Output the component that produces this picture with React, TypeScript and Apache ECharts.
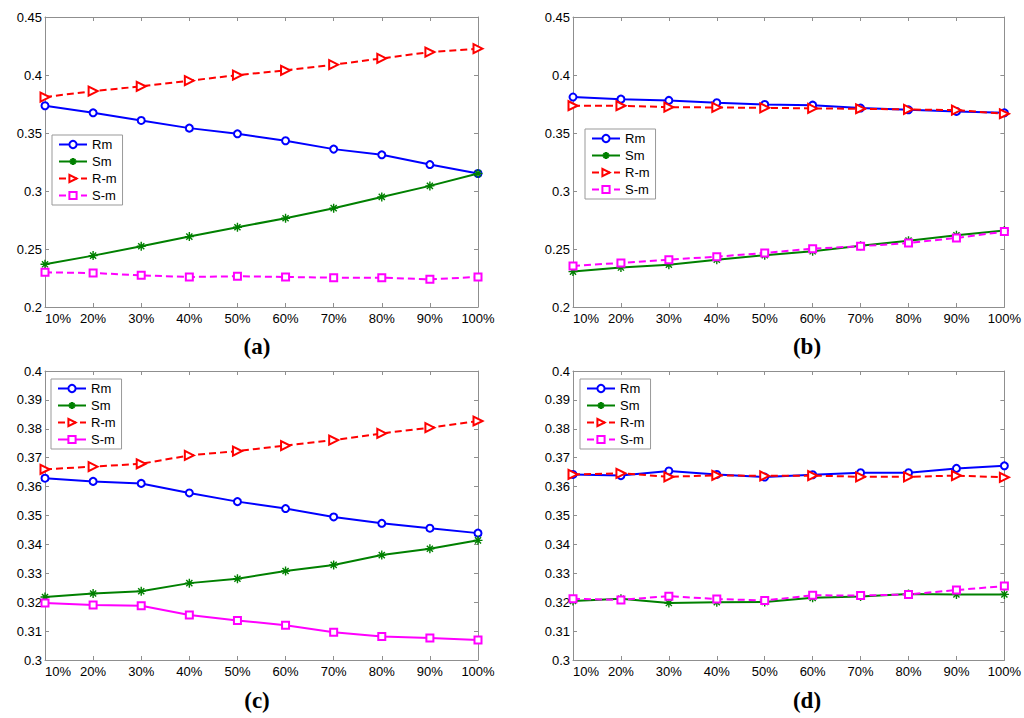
import { useEffect, useRef } from "react";
import * as echarts from "echarts";

const categories = ["10%", "20%", "30%", "40%", "50%", "60%", "70%", "80%", "90%", "100%"];
const seriesNames = ["Rm", "Sm", "R-m", "S-m"];

// panel (a)
const aRm = [0.3735, 0.3674, 0.3608, 0.3542, 0.3493, 0.3433, 0.3361, 0.3312, 0.3228, 0.3151];
const aSm = [0.2368, 0.2443, 0.2524, 0.2607, 0.2688, 0.2765, 0.2852, 0.2949, 0.3044, 0.3151];
const aRminus = [0.381, 0.3861, 0.3902, 0.3951, 0.3999, 0.404, 0.4089, 0.4143, 0.4198, 0.4227];
const aSminus = [0.2299, 0.2293, 0.2273, 0.2259, 0.2265, 0.2259, 0.2253, 0.2253, 0.2239, 0.2259];

// panel (b)
const bRm = [0.381, 0.3792, 0.3781, 0.3761, 0.3746, 0.374, 0.3715, 0.37, 0.3686, 0.3674];
const bSm = [0.2305, 0.234, 0.2365, 0.2408, 0.2446, 0.248, 0.2529, 0.2572, 0.2619, 0.2659];
const bRminus = [0.3735, 0.3735, 0.3723, 0.372, 0.3717, 0.3712, 0.3709, 0.3703, 0.3697, 0.3666];
const bSminus = [0.2354, 0.238, 0.2408, 0.2434, 0.2466, 0.2503, 0.2524, 0.2552, 0.2595, 0.265];

// panel (c)
const cRm = [0.3629, 0.3618, 0.3611, 0.3578, 0.3548, 0.3524, 0.3495, 0.3473, 0.3456, 0.3439];
const cSm = [0.3218, 0.323, 0.3238, 0.3266, 0.3281, 0.3308, 0.3329, 0.3363, 0.3385, 0.3414];
const cRminus = [0.366, 0.3669, 0.3679, 0.3708, 0.3723, 0.3742, 0.3761, 0.3784, 0.3804, 0.3827];
const cSminus = [0.3197, 0.319, 0.3188, 0.3156, 0.3137, 0.312, 0.3096, 0.3081, 0.3076, 0.3069];

// panel (d)
const dRm = [0.3642, 0.3638, 0.3654, 0.3642, 0.3633, 0.3641, 0.3648, 0.3648, 0.3663, 0.3672];
const dSm = [0.3204, 0.3212, 0.3197, 0.32, 0.3201, 0.3215, 0.322, 0.3228, 0.3227, 0.3227];
const dRminus = [0.3642, 0.3646, 0.3634, 0.3639, 0.3637, 0.3638, 0.3634, 0.3634, 0.3638, 0.3632];
const dSminus = [0.3212, 0.3208, 0.3221, 0.3211, 0.3206, 0.3224, 0.3223, 0.3227, 0.3242, 0.3256];

const AXIS_GRAY = "#8f8f8f";
const SANS = "'Liberation Sans', Arial, sans-serif";
const SERIF = "'Liberation Serif', 'Times New Roman', serif";
const ASTERISK = "path://M5,0L5,10M0,5L10,5M1.6,1.6L8.4,8.4M1.6,8.4L8.4,1.6";

type PanelSpec = {
  letter: string;
  left: number;
  top: number;
  values: number[][];
  yMin: number;
  yMax: number;
  interval: number;
  gridLeft: number;
  gridTop: number;
  gridWidth: number;
  gridHeight: number;
  legendLeft: number;
  legendTop: number;
  labelX: number;
  labelY: number;
  sMinusSolid: boolean;
};

const panels: PanelSpec[] = [
  {
    letter: "a", left: 0, top: 0, values: [aRm, aSm, aRminus, aSminus],
    yMin: 0.2, yMax: 0.45, interval: 0.05,
    gridLeft: 45, gridTop: 17, gridWidth: 433, gridHeight: 290,
    legendLeft: 52, legendTop: 135, labelX: 257, labelY: 348, sMinusSolid: false,
  },
  {
    letter: "b", left: 512, top: 0, values: [bRm, bSm, bRminus, bSminus],
    yMin: 0.2, yMax: 0.45, interval: 0.05,
    gridLeft: 61, gridTop: 17, gridWidth: 434, gridHeight: 290,
    legendLeft: 73, legendTop: 129, labelX: 295, labelY: 348, sMinusSolid: false,
  },
  {
    letter: "c", left: 0, top: 359, values: [cRm, cSm, cRminus, cSminus],
    yMin: 0.3, yMax: 0.4, interval: 0.01,
    gridLeft: 45, gridTop: 12, gridWidth: 433, gridHeight: 289,
    legendLeft: 51, legendTop: 20, labelX: 257, labelY: 343, sMinusSolid: true,
  },
  {
    letter: "d", left: 512, top: 359, values: [dRm, dSm, dRminus, dSminus],
    yMin: 0.3, yMax: 0.4, interval: 0.01,
    gridLeft: 61, gridTop: 12, gridWidth: 434, gridHeight: 289,
    legendLeft: 68, legendTop: 20, labelX: 295, labelY: 343, sMinusSolid: false,
  },
];

function buildOption(p: PanelSpec) {
  const styles = [
    { color: "#0000ff", dashed: false, symbol: "emptyCircle", size: 7, rotate: 0 },
    { color: "#008000", dashed: false, symbol: ASTERISK, size: 9, rotate: 0 },
    { color: "#ff0000", dashed: true, symbol: "emptyTriangle", size: 9, rotate: -90 },
    { color: "#ff00ff", dashed: !p.sMinusSolid, symbol: "emptyRect", size: 7, rotate: 0 },
  ];

  const series = seriesNames.map((name, i) => {
    const s = styles[i];
    return {
      name,
      type: "line",
      data: p.values[i],
      xAxisIndex: 0,
      yAxisIndex: 0,
      symbol: s.symbol,
      symbolSize: s.size,
      symbolRotate: s.rotate,
      showAllSymbol: true,
      lineStyle: { color: s.color, width: 2, type: s.dashed ? [7, 4] : "solid" },
      itemStyle: { color: s.color, borderColor: s.color, borderWidth: 1.4 },
      z: 2 + i,
    };
  });

  const fmt = (v: number) => String(parseFloat(v.toFixed(3)));
  const axisLine = { show: true, onZero: false, lineStyle: { color: AXIS_GRAY, width: 1 } };
  const axisTick = { show: true, inside: true, length: 4, lineStyle: { color: AXIS_GRAY } };

  return {
    animation: false,
    backgroundColor: "#ffffff",
    title: {
      text: `{n|(}{b|${p.letter}}{n|)}`,
      left: p.labelX,
      top: p.labelY - 13,
      textAlign: "center",
      padding: 0,
      textStyle: {
        rich: {
          n: { fontFamily: SERIF, fontSize: 23, color: "#000" },
          b: { fontFamily: SERIF, fontSize: 23, fontWeight: "bold", color: "#000" },
        },
      },
    },
    grid: { left: p.gridLeft, top: p.gridTop, width: p.gridWidth, height: p.gridHeight, containLabel: false },
    legend: {
      orient: "vertical",
      left: p.legendLeft,
      top: p.legendTop,
      data: seriesNames,
      padding: [3, 6, 3, 6],
      itemWidth: 28,
      itemHeight: 9,
      itemGap: 4,
      borderColor: "#999",
      borderWidth: 1,
      borderRadius: 0,
      backgroundColor: "#fff",
      selectedMode: false,
      textStyle: { fontFamily: SANS, fontSize: 13, color: "#000", lineHeight: 13 },
      z: 10,
    },
    xAxis: [
      {
        type: "category",
        data: categories,
        boundaryGap: false,
        position: "bottom",
        axisLine,
        axisTick,
        axisLabel: { color: "#000", fontFamily: SANS, fontSize: 13, margin: 5, alignMinLabel: "left", interval: 0 },
        splitLine: { show: false },
      },
      {
        type: "category",
        data: categories,
        boundaryGap: false,
        position: "top",
        axisLine,
        axisTick,
        axisLabel: { show: false },
        splitLine: { show: false },
      },
    ],
    yAxis: [
      {
        type: "value",
        min: p.yMin,
        max: p.yMax,
        interval: p.interval,
        position: "left",
        axisLine,
        axisTick,
        axisLabel: { color: "#000", fontFamily: SANS, fontSize: 13, margin: 3, formatter: fmt },
        splitLine: { show: false },
      },
      {
        type: "value",
        min: p.yMin,
        max: p.yMax,
        interval: p.interval,
        position: "right",
        axisLine,
        axisTick,
        axisLabel: { show: false },
        splitLine: { show: false },
      },
    ],
    series,
  };
}

function Panel({ spec }: { spec: PanelSpec }) {
  const ref = useRef<HTMLDivElement | null>(null);

  useEffect(() => {
    if (!ref.current) {
      return;
    }
    const chart = echarts.init(ref.current, undefined, { renderer: "svg" });
    chart.setOption(buildOption(spec));
    return () => {
      chart.dispose();
    };
  }, [spec]);

  return (
    <div
      ref={ref}
      style={{ position: "absolute", left: spec.left, top: spec.top, width: 512, height: 359 }}
    />
  );
}

export default function App() {
  return (
    <div style={{ position: "absolute", left: 0, top: 0, width: 1024, height: 718, background: "#fff" }}>
      {panels.map((p) => (
        <Panel key={p.letter} spec={p} />
      ))}
    </div>
  );
}
